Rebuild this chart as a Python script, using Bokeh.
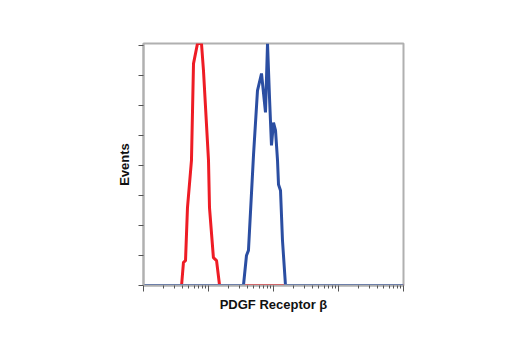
from bokeh.plotting import figure
from bokeh.models import FixedTicker
from bokeh.embed import file_html
from bokeh.resources import INLINE

# Histogram outlines (fluorescence intensity on log axis, relative event count)
red_x = [1, 3.85, 4.12, 4.43, 4.75, 5.47, 5.88, 6.77, 7.80, 8.37, 10.0, 10.36, 11.9, 13.3, 14.8, 10000]
red_y = [0, 0, 0.77, 0.83, 2.6, 4.17, 7.4, 8.07, 8.07, 7.17, 4.17, 2.6, 0.93, 0.83, 0, 0]

blue_x = [1, 34.5, 38.4, 41.2, 49.2, 56.7, 65.4, 75.3, 80.9, 86.8, 93.1, 100, 107.4,
          115.3, 119.4, 128.2, 137.5, 153.0, 10000]
blue_y = [0, 0, 1.0, 1.17, 4.33, 6.5, 7.07, 5.77, 8.07, 6.27, 4.67, 5.43, 5.17,
          4.17, 3.37, 3.17, 1.5, 0, 0]

y_ticks = [0, 1, 2, 3, 4, 5, 6, 7, 8]
x_major = [1, 10, 100, 1000, 10000]
x_minor = [m * d for d in [1, 10, 100, 1000] for m in range(2, 10)]

p = figure(width=520, height=350, x_axis_type="log", x_range=(1, 10000), y_range=(0, 8.07),
           output_backend="svg", toolbar_location=None,
           min_border_left=143, min_border_right=117, min_border_top=43, min_border_bottom=65)

p.line(red_x, red_y, line_color="#ee1c25", line_width=3)
p.line(blue_x, blue_y, line_color="#2b4ea2", line_width=3)

p.grid.visible = False
p.outline_line_color = "#b0b0b0"
p.outline_line_width = 2
p.background_fill_color = "white"
p.border_fill_color = "white"

p.xaxis.ticker = FixedTicker(ticks=x_major, minor_ticks=x_minor)
p.yaxis.ticker = FixedTicker(ticks=y_ticks)

for ax in (p.xaxis, p.yaxis):
    ax.axis_line_color = "#b0b0b0"
    ax.axis_line_width = 2
    ax.major_tick_line_color = "#555555"
    ax.minor_tick_line_color = "#555555"
    ax.major_tick_in = 0
    ax.minor_tick_in = 0
    ax.major_label_text_font_size = "2px"
    ax.major_label_text_color = None
    ax.axis_label_text_font = "Liberation Sans"
    ax.axis_label_text_font_style = "bold"
    ax.axis_label_text_font_size = "13px"
    ax.axis_label_text_color = "#111111"

p.xaxis.major_tick_out = 6
p.xaxis.minor_tick_out = 3
p.yaxis.major_tick_out = 5
p.yaxis.minor_tick_out = 0
p.yaxis.minor_tick_line_color = None

p.xaxis.axis_label = "PDGF Receptor β"
p.yaxis.axis_label = "Events"
p.xaxis.axis_label_standoff = 5
p.yaxis.axis_label_standoff = 7

open("out.html", "w").write(file_html(p, INLINE))
